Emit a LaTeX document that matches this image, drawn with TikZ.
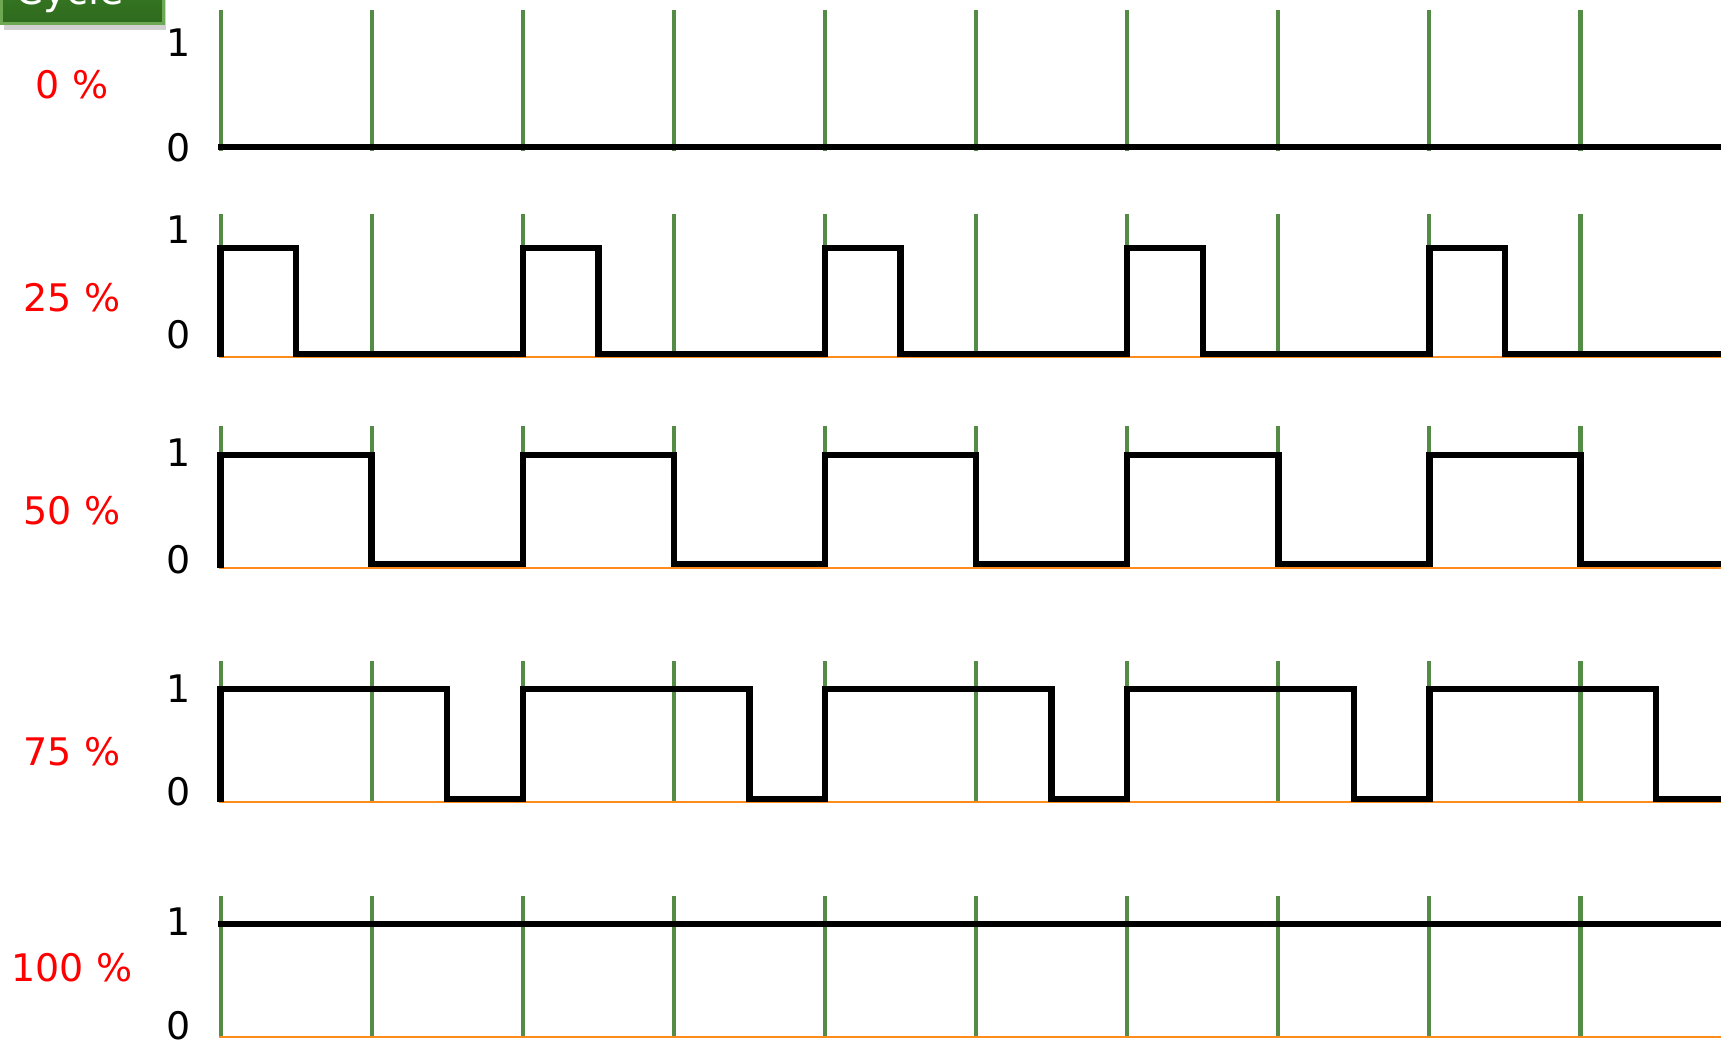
\documentclass[tikz,border=0pt]{standalone}
\usepackage{fontspec}
\setmainfont{DejaVu Sans}
\usetikzlibrary{shadows}
\definecolor{gridgreen}{HTML}{548B46}
\definecolor{zeroorange}{HTML}{FF8C1A}
\definecolor{boxgreen}{HTML}{3E8429}
\definecolor{boxgreendark}{HTML}{2E6A1D}
\definecolor{boxborder}{HTML}{6FA852}
\tikzset{
    gridline/.style={draw=gridgreen, line width=1.15pt},
    zeroline/.style={draw=zeroorange, line width=0.6pt},
    waveline/.style={draw=black, line width=1.84pt, line join=miter},
    levellabel/.style={font=\fontsize{10.8}{13}\selectfont, text=black, inner sep=0pt},
    dutylabel/.style={font=\fontsize{10.8}{13}\selectfont, text=red, inner sep=0pt},
    cyclebox/.style={
        draw=boxborder, line width=0.8pt, top color=boxgreen, bottom color=boxgreendark,
        minimum width=1.62cm, minimum height=0.7cm, inner sep=0pt,
        drop shadow={opacity=0.35, shadow xshift=0.6pt, shadow yshift=-1.8pt}
    },
}

\begin{document}
\begin{tikzpicture}[x=0.01cm, y=-0.01cm]
    \clip (0,0) rectangle (1721,1043);
    \fill[white] (0,0) rectangle (1721,1043);

    % clock grid
    \foreach \k in {0,...,9} {
        \draw[gridline] ({220.6+151.1*\k},10)  -- ({220.6+151.1*\k},151);
        \draw[gridline] ({220.6+151.1*\k},214) -- ({220.6+151.1*\k},357);
        \draw[gridline] ({220.6+151.1*\k},426) -- ({220.6+151.1*\k},568);
        \draw[gridline] ({220.6+151.1*\k},661) -- ({220.6+151.1*\k},802);
        \draw[gridline] ({220.6+151.1*\k},896) -- ({220.6+151.1*\k},1037);
    }

    % zero lines
    \draw[zeroline] (219,357) -- (1721,357);
    \draw[zeroline] (219,568) -- (1721,568);
    \draw[zeroline] (219,802) -- (1721,802);
    \draw[zeroline] (219,1037) -- (1721,1037);

    % 0 %
    \draw[waveline] (218,147) -- (1721,147);
    % 25 %
    \draw[waveline] (220.6,357) \foreach \i in {0,...,4} {
        -- ({220.6+302.2*\i},354) -- ({220.6+302.2*\i},248)
        -- ({296.2+302.2*\i},248) -- ({296.2+302.2*\i},354)
    } -- (1721,354);
    % 50 %
    \draw[waveline] (220.6,568) \foreach \i in {0,...,4} {
        -- ({220.6+302.2*\i},564) -- ({220.6+302.2*\i},455)
        -- ({371.7+302.2*\i},455) -- ({371.7+302.2*\i},564)
    } -- (1721,564);
    % 75 %
    \draw[waveline] (220.6,802) \foreach \i in {0,...,4} {
        -- ({220.6+302.2*\i},799) -- ({220.6+302.2*\i},689)
        -- ({447.2+302.2*\i},689) -- ({447.2+302.2*\i},799)
    } -- (1721,799);
    % 100 %
    \draw[waveline] (218,924) -- (1721,924);

    % level labels
    \node[levellabel] (one0)   at (179,43)   {1};
    \node[levellabel] (zero0)  at (179,148)  {0};
    \node[levellabel] (one25)  at (179,230)  {1};
    \node[levellabel] (zero25) at (179,335)  {0};
    \node[levellabel] (one50)  at (179,453)  {1};
    \node[levellabel] (zero50) at (179,560)  {0};
    \node[levellabel] (one75)  at (179,689)  {1};
    \node[levellabel] (zero75) at (179,792)  {0};
    \node[levellabel] (one100) at (179,922)  {1};
    \node[levellabel] (zero100) at (179,1026) {0};

    % duty labels
    \node[dutylabel] (duty0)   at (72,85)  {0 \%};
    \node[dutylabel] (duty25)  at (72,298) {25 \%};
    \node[dutylabel] (duty50)  at (72,511) {50 \%};
    \node[dutylabel] (duty75)  at (72,752) {75 \%};
    \node[dutylabel] (duty100) at (72,968) {100 \%};

    % title tab
    \node[cyclebox, anchor=south west] (cycle) at (0,25) {};
    \node[anchor=base west, inner sep=0pt, text=white, font=\fontsize{11.3}{13}\selectfont] (cycletxt) at (15,5) {Cycle};
\end{tikzpicture}
\end{document}
